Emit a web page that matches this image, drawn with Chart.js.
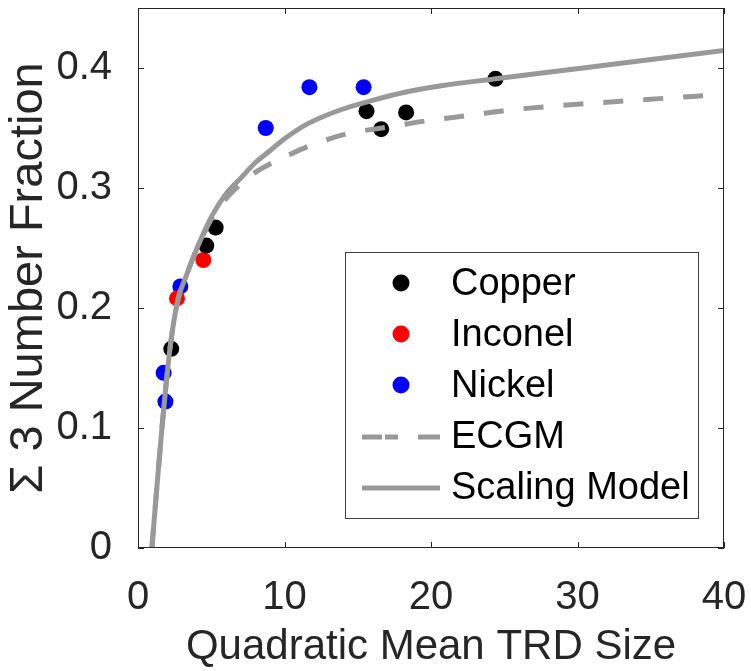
<!DOCTYPE html>
<html><head><meta charset="utf-8">
<script src="https://cdn.jsdelivr.net/npm/chart.js@4.4.1/dist/chart.umd.min.js"></script>
<style>html,body{margin:0;padding:0;background:#fff;}#wrap{width:751px;height:671px;}</style>
</head><body><div id="wrap"><canvas id="c" width="751" height="671"></canvas></div>
<script>
// ---- data ----
const copperX = [2.27, 4.66, 5.30, 15.6, 16.6, 18.3, 24.4];
const copperY = [0.166, 0.252, 0.267, 0.364, 0.349, 0.363, 0.391];
const inconelX = [2.66, 4.46];
const inconelY = [0.208, 0.240];
const nickelX = [1.75, 1.87, 2.89, 8.72, 11.7, 15.4];
const nickelY = [0.146, 0.122, 0.218, 0.350, 0.384, 0.384];
const scalingX = [0.95, 1.25, 1.65, 2.2, 2.75, 3.3, 3.8, 4.5, 5.1, 6.0, 7.0, 8.0, 9.0, 10.0, 11.5, 13.8, 16.0, 18.3, 20.6, 24.4, 28.0, 32.0, 36.0, 40.0];
const scalingY = [0.000, 0.045, 0.102, 0.168, 0.208, 0.227, 0.243, 0.263, 0.278, 0.295, 0.308, 0.321, 0.331, 0.341, 0.353, 0.365, 0.373, 0.380, 0.385, 0.391, 0.3965, 0.4025, 0.4085, 0.4145];
const ecgmX = [0.95, 1.25, 1.65, 2.2, 2.75, 3.3, 3.8, 4.5, 5.1, 6.0, 7.0, 8.0, 9.0, 10.2, 11.5, 14.2, 17.2, 19.7, 22.9, 25.4, 28.1, 33.8, 40.0];
const ecgmY = [0.000, 0.045, 0.102, 0.168, 0.208, 0.227, 0.243, 0.262, 0.276, 0.291, 0.303, 0.313, 0.320, 0.327, 0.334, 0.345, 0.351, 0.356, 0.361, 0.365, 0.368, 0.373, 0.378];
const xTicks = [0, 10, 20, 30, 40];
const xTickLabels = ['0', '10', '20', '30', '40'];
const yTicks = [0, 0.1, 0.2, 0.3, 0.4];
const yTickLabels = ['0', '0.1', '0.2', '0.3', '0.4'];
const seriesNames = ['Copper', 'Inconel', 'Nickel', 'ECGM', 'Scaling Model'];

const FONT = "'Liberation Sans', Arial, Helvetica, sans-serif";
const AXC = '#262626';
const LINEC = '#999999';
const pts = (xs, ys) => xs.map((x, i) => ({x, y: ys[i]}));

const boxPlugin = {
  id: 'boxPlugin',
  afterDatasetsDraw(chart) {
    const {ctx, chartArea: a, scales: {x, y}} = chart;
    ctx.save();
    ctx.strokeStyle = AXC;
    ctx.lineWidth = 1;
    ctx.strokeRect(Math.round(a.left) + 0.5, Math.round(a.top) + 0.5,
      Math.round(a.right - a.left) - 1, Math.round(a.bottom - a.top) - 1);
    const tl = 6;
    ctx.beginPath();
    xTicks.forEach(v => {
      const px = Math.round(x.getPixelForValue(v)) + 0.5;
      ctx.moveTo(px, a.bottom); ctx.lineTo(px, a.bottom - tl);
      ctx.moveTo(px, a.top); ctx.lineTo(px, a.top + tl);
    });
    yTicks.forEach(v => {
      const py = Math.round(y.getPixelForValue(v)) + 0.5;
      ctx.moveTo(a.left, py); ctx.lineTo(a.left + tl, py);
      ctx.moveTo(a.right, py); ctx.lineTo(a.right - tl, py);
    });
    ctx.stroke();
    ctx.restore();
  },
  afterDraw(chart) {
    const {ctx} = chart;
    const L = 345, T = 252, R = 698, B = 518;
    ctx.save();
    ctx.fillStyle = '#fff';
    ctx.fillRect(L, T, R - L, B - T);
    ctx.strokeStyle = '#404040';
    ctx.lineWidth = 1;
    ctx.strokeRect(L + 0.5, T + 0.5, R - L, B - T);
    const rows = [285, 336, 387, 438, 489];
    ctx.font = '38px ' + FONT;
    ctx.textBaseline = 'middle';
    ctx.textAlign = 'left';
    chart.data.datasets.forEach((ds, i) => {
      const yy = rows[i];
      if (ds.showLine) {
        ctx.save();
        ctx.strokeStyle = ds.borderColor;
        ctx.lineWidth = ds.borderWidth;
        ctx.setLineDash(ds.borderDash && ds.borderDash.length ? [20, 3, 13, 20, 22] : []);
        ctx.beginPath();
        ctx.moveTo(362, yy - 1); ctx.lineTo(440, yy - 1);
        ctx.stroke();
        ctx.restore();
      } else {
        ctx.fillStyle = ds.backgroundColor;
        ctx.beginPath();
        ctx.arc(401, yy - 2, 8.5, 0, Math.PI * 2);
        ctx.fill();
      }
      ctx.fillStyle = '#000';
      ctx.fillText(ds.label, 451, yy);
    });
    ctx.restore();
  }
};

const marker = (label, xs, ys, color) => ({
  label, data: pts(xs, ys), backgroundColor: color, borderColor: color,
  pointRadius: 8, pointHoverRadius: 8, borderWidth: 0, showLine: false, order: 2
});
const curve = (label, xs, ys, dash) => ({
  label, data: pts(xs, ys), showLine: true, borderColor: LINEC, backgroundColor: LINEC,
  borderWidth: 5, borderDash: dash, pointRadius: 0, pointHoverRadius: 0,
  cubicInterpolationMode: 'monotone', fill: false, order: 0, borderCapStyle: 'butt'
});

new Chart(document.getElementById('c'), {
  type: 'scatter',
  data: {
    datasets: [
      marker(seriesNames[0], copperX, copperY, '#000000'),
      marker(seriesNames[1], inconelX, inconelY, '#ff0000'),
      marker(seriesNames[2], nickelX, nickelY, '#0000ff'),
      curve(seriesNames[3], ecgmX, ecgmY, [20, 20]),
      curve(seriesNames[4], scalingX, scalingY, [])
    ]
  },
  options: {
    responsive: false,
    animation: false,
    devicePixelRatio: 1,
    layout: {padding: {top: 8, right: 27, bottom: 0, left: 0}},
    plugins: {legend: {display: false}, tooltip: {enabled: false}},
    scales: {
      x: {
        type: 'linear', min: 0, max: 40,
        afterBuildTicks: s => { s.ticks = xTicks.map(v => ({value: v})); },
        afterFit: s => { s.height = 123; s.paddingLeft = 0; s.paddingRight = 0; },
        grid: {display: false}, border: {display: false},
        ticks: {
          font: {family: FONT, size: 40}, color: AXC, padding: 18,
          maxRotation: 0, autoSkip: false,
          callback: (v, i) => xTickLabels[i]
        },
        title: {display: true, text: 'Quadratic Mean TRD Size', color: AXC,
          font: {family: FONT, size: 42, lineHeight: 1.1}, padding: 0}
      },
      y: {
        type: 'linear', min: 0, max: 0.45,
        afterBuildTicks: s => { s.ticks = yTicks.map(v => ({value: v})); },
        afterFit: s => { s.width = 138; s.paddingTop = 0; s.paddingBottom = 0; },
        grid: {display: false}, border: {display: false},
        ticks: {
          font: {family: FONT, size: 40}, color: AXC, padding: 18, autoSkip: false,
          callback: (v, i) => yTickLabels[i]
        },
        title: {display: true, text: 'Σ 3 Number Fraction', color: AXC,
          font: {family: FONT, size: 47, lineHeight: 1.2}, padding: {top: 1, bottom: 0}}
      }
    }
  },
  plugins: [boxPlugin]
});
</script>
</body></html>
